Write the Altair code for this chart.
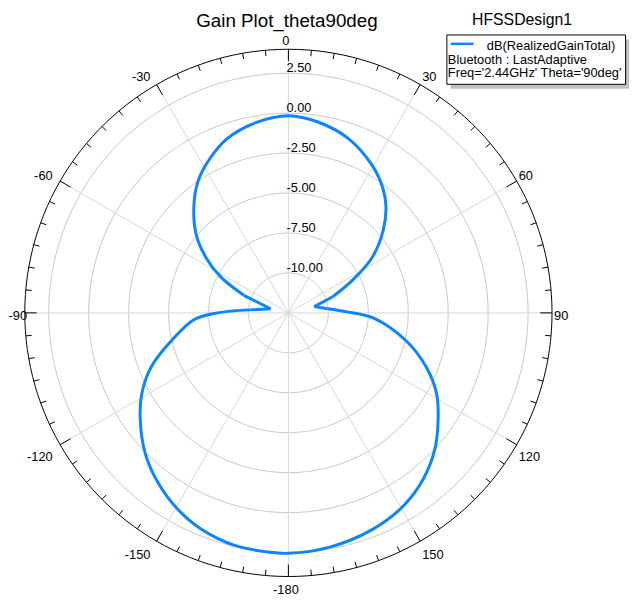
import altair as alt
import pandas as pd

# ---------------- data ----------------
phi_deg = [-180, -175, -167, -158, -150.5, -142.5, -134.5, -126, -119, -111.5,
           -103.5, -94, -90, -85.5, -77, -68.5, -62, -56, -49.5, -41.5,
           -34.5, -28, -19.5, -9.5, 0, 9, 19, 29.5, 37, 42.5,
           49, 56.5, 63, 70, 76.5, 84, 89, 93.5, 103.5, 111.5,
           118.5, 125.5, 133, 141, 149, 158.5, 170, 180]
gain_db = [2.55, 2.52, 2.44, 2.09, 1.60, 0.90, 0.06, -1.04, -2.00, -3.27,
           -4.95, -6.59, -8.05, -10.10, -11.35, -9.50, -7.70, -6.26, -4.90, -3.57,
           -2.51, -1.77, -0.95, -0.41, -0.16, -0.42, -0.96, -1.87, -2.69, -3.46,
           -4.64, -6.21, -8.01, -9.56, -10.83, -10.03, -8.81, -7.15, -4.89, -3.22,
           -1.95, -0.99, 0.03, 0.90, 1.55, 2.03, 2.39, 2.55]
# nulls (sharp tips) of the trace, with the samples on either side
null_left = [-85.5, -77, -68.5]
null_right = [70, 76.5, 84]

grid_db = [-10, -7.5, -5, -2.5, 0, 2.5]
grid_text = ["-10.00", "-7.50", "-5.00", "-2.50", "0.00", "2.50"]
r_min = -12.5
r_max = 4.0

angle_vals = [0, 30, 60, 90, 120, 150, 180, -150, -120, -90, -60, -30]
angle_text = ["0", "30", "60", "90", "120", "150", "-180", "-150", "-120", "-90", "-60", "-30"]
spoke_deg = list(range(0, 360, 30))
tick_deg = list(range(0, 360, 5))
circle_deg = list(range(0, 361, 2))

title_text = "Gain Plot_theta90deg"
design_text = "HFSSDesign1"
legend_lines = ["dB(RealizedGainTotal)", "Bluetooth : LastAdaptive",
                "Freq='2.44GHz' Theta='90deg'"]

# ---------------- styling ----------------
FONT = "Liberation Sans"
TRACE = "#0a84ff"
W = 534
R = r_max - r_min
K = (W / 2) / R  # px per dB

sc = alt.Scale(domain=[-R, R], nice=False, zero=False)


def X(f):
    return alt.X(f, type="quantitative", scale=sc, axis=None)


def Y(f):
    return alt.Y(f, type="quantitative", scale=sc, axis=None)


# ---------------- tables ----------------
trace = pd.DataFrame({"i": range(len(phi_deg)), "phi": phi_deg, "db": gain_db})
grid_df = pd.DataFrame([(lv, a) for lv in grid_db for a in circle_deg], columns=["level", "a"])
outer_df = pd.DataFrame({"a": circle_deg})
spoke_df = pd.DataFrame({"a": spoke_deg})
tick_df = pd.DataFrame({"a": tick_deg})
rlab_df = pd.DataFrame({"level": grid_db, "t": grid_text})
alab_df = pd.DataFrame({"a": angle_vals, "t": angle_text})

# ---------------- layers ----------------
grid = alt.Chart(grid_df).transform_calculate(
    rr=f"datum.level - ({r_min})"
).transform_calculate(
    px="datum.rr*sin(datum.a*PI/180)", py="datum.rr*cos(datum.a*PI/180)"
).mark_line(color="#c8c8c8", strokeWidth=1).encode(
    x=X("px"), y=Y("py"), detail="level:N", order="a:Q")

spokes = alt.Chart(spoke_df).transform_calculate(
    x0="0", y0="0",
    px=f"{R}*sin(datum.a*PI/180)", py=f"{R}*cos(datum.a*PI/180)"
).mark_rule(color="#d6d6d6", strokeWidth=1).encode(
    x=X("x0"), y=Y("y0"), x2="px:Q", y2="py:Q")

outer = alt.Chart(outer_df).transform_calculate(
    px=f"{R}*sin(datum.a*PI/180)", py=f"{R}*cos(datum.a*PI/180)"
).mark_line(color="black", strokeWidth=1).encode(
    x=X("px"), y=Y("py"), order="a:Q")

ticks = alt.Chart(tick_df).transform_calculate(
    ln=f"(datum.a % 30 == 0 ? 12 : 6)/{K}"
).transform_calculate(
    px=f"{R}*sin(datum.a*PI/180)", py=f"{R}*cos(datum.a*PI/180)",
    qx=f"({R}-datum.ln)*sin(datum.a*PI/180)", qy=f"({R}-datum.ln)*cos(datum.a*PI/180)"
).mark_rule(color="black", strokeWidth=1).encode(
    x=X("px"), y=Y("py"), x2="qx:Q", y2="qy:Q")

rlabels = alt.Chart(rlab_df).transform_calculate(
    x0="0", ry=f"datum.level - ({r_min})"
).mark_text(align="left", baseline="alphabetic", dx=-2, dy=-1, fontSize=13,
            font=FONT, color="black").encode(x=X("x0"), y=Y("ry"), text="t:N")

LY = (f"{R}*datum.c - (datum.c > 0.95 ? -4.3 : datum.c > 0.7 ? -4 : datum.c > 0.1 ? -1 : "
      f"datum.c >= -0.1 ? 7 : datum.c < -0.95 ? 18 : datum.c < -0.7 ? 18.5 : 16.5)/{K}")


def angle_layer(filt, align, lx):
    return alt.Chart(alab_df).transform_filter(filt).transform_calculate(
        c="cos(datum.a*PI/180)", s="sin(datum.a*PI/180)"
    ).transform_calculate(
        lx=lx, ly=LY
    ).mark_text(align=align, baseline="alphabetic", fontSize=13, font=FONT,
                color="black").encode(x=X("lx"), y=Y("ly"), text="t:N")


alab_right = angle_layer("datum.a > 0 && datum.a < 180", "left", f"{R}*datum.s + 2/{K}")
alab_left = angle_layer("datum.a < 0 && datum.a != -90", "right",
                        f"{R}*datum.s - (4.5 + 3.5*abs(datum.s))/{K}")
# the -90 label sits at the very left edge of the page: anchor its left side
alab_w = angle_layer("datum.a == -90", "left", f"-{R} - 16.5/{K}")
alab_mid = angle_layer("datum.a == 0 || datum.a == 180", "center", f"{R}*datum.s - 2.5/{K}")

POLAR = dict(px="datum.rr*sin(datum.phi*PI/180)", py="datum.rr*cos(datum.phi*PI/180)")
base = alt.Chart(trace).transform_calculate(
    rr=f"max(datum.db - ({r_min}), 0)",
    key="datum.phi < 0 ? datum.phi + 360 : datum.phi",
).transform_calculate(**POLAR)

lo, hi = null_left[0], null_right[-1]
a0, a1 = null_left[-1], null_right[0]
# lower lobe (from the right null through 180 to the left null), smooth
lobe_low = base.transform_filter(
    f"(datum.phi <= {lo} && datum.phi > -180) || datum.phi >= {hi}"
).mark_line(color=TRACE, strokeWidth=3, interpolate="catmull-rom").encode(
    x=X("px"), y=Y("py"), order="key:Q")
# upper lobe, smooth
lobe_up = base.transform_filter(
    f"datum.phi >= {a0} && datum.phi <= {a1}"
).mark_line(color=TRACE, strokeWidth=3, interpolate="catmull-rom").encode(
    x=X("px"), y=Y("py"), order="phi:Q")
# the two sharp nulls, straight segments
tips = base.transform_filter(
    f"(datum.phi >= {lo} && datum.phi <= {a0}) || (datum.phi >= {a1} && datum.phi <= {hi})"
).transform_calculate(side="datum.phi < 0 ? 'L' : 'R'").mark_line(
    color=TRACE, strokeWidth=3, strokeJoin="bevel").encode(
    x=X("px"), y=Y("py"), detail="side:N", order="phi:Q")

one = pd.DataFrame({"k": [0]})
shadow = alt.Chart(one).mark_rect(fill="#c0c0c0").encode(
    x=alt.value(431.5), x2=alt.value(612), y=alt.value(-10), y2=alt.value(40))
box = alt.Chart(one).mark_rect(fill="white", stroke="black", strokeWidth=1).encode(
    x=alt.value(427.5), x2=alt.value(608.5), y=alt.value(-14.5), y2=alt.value(35.5))
sample = alt.Chart(one).mark_rule(color=TRACE, strokeWidth=2.5).encode(
    x=alt.value(431.5), x2=alt.value(454.5), y=alt.value(-5.5))
leg1 = alt.Chart(pd.DataFrame({"t": [legend_lines[0]]})).mark_text(
    align="right", baseline="alphabetic", fontSize=13, font=FONT, color="black").encode(
    x=alt.value(598), y=alt.value(0.7), text="t:N")
leg2 = alt.Chart(pd.DataFrame({"t": [legend_lines[1]]})).mark_text(
    align="left", baseline="alphabetic", fontSize=13, font=FONT, color="black").encode(
    x=alt.value(428.5), y=alt.value(14.7), text="t:N")
leg3 = alt.Chart(pd.DataFrame({"t": [legend_lines[2]]})).mark_text(
    align="left", baseline="alphabetic", fontSize=13, font=FONT, color="black").encode(
    x=alt.value(428.5), y=alt.value(28.4), text="t:N")

title = alt.Chart(pd.DataFrame({"t": [title_text]})).mark_text(
    align="center", baseline="alphabetic", fontSize=19, font=FONT, color="black").encode(
    x=alt.value(265.5), y=alt.value(-23), text="t:N")
design = alt.Chart(pd.DataFrame({"t": [design_text]})).mark_text(
    align="left", baseline="alphabetic", fontSize=16, font=FONT, color="black").encode(
    x=alt.value(453), y=alt.value(-25), text="t:N")

chart = alt.layer(
    grid, spokes, outer, ticks, rlabels, alab_right, alab_left, alab_w, alab_mid,
    lobe_low, lobe_up, tips,
    shadow, box, sample, leg1, leg2, leg3, title, design
).properties(
    width=W, height=W,
    autosize=alt.AutoSizeParams(type="none"),
    padding={"left": 17, "top": 38, "right": 81, "bottom": 20},
    background="white",
).configure_view(strokeWidth=0)

chart.save("out.html", embed_options={"renderer": "svg", "actions": False})
